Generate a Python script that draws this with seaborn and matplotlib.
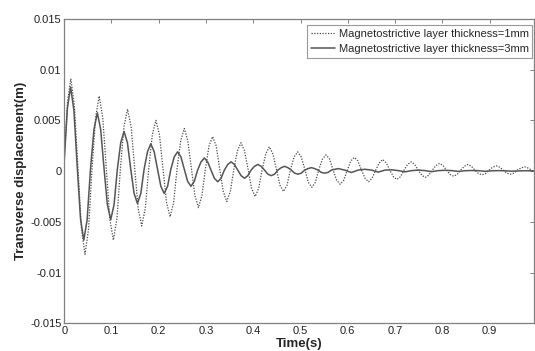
import numpy as np
import pandas as pd
import seaborn as sns
import matplotlib
matplotlib.use("Agg")
import matplotlib.pyplot as plt

# values (time in s, displacement in m)
t_1mm = [0.000, 0.007, 0.014, 0.0215, 0.029, 0.0365, 0.044, 0.0515, 0.059,
         0.0665, 0.074, 0.0815, 0.089, 0.0965, 0.104, 0.1115, 0.119,
         0.1265, 0.134, 0.1415, 0.149, 0.1565, 0.164, 0.1715, 0.179,
         0.1865, 0.194, 0.2015, 0.209, 0.2165, 0.224, 0.2315, 0.239,
         0.2465, 0.254, 0.2615, 0.269, 0.2765, 0.284, 0.2915, 0.299,
         0.3065, 0.314, 0.3215, 0.329, 0.3365, 0.344, 0.3515, 0.359,
         0.3665, 0.374, 0.3815, 0.389, 0.3965, 0.404, 0.4115, 0.419,
         0.4265, 0.434, 0.4415, 0.449, 0.4565, 0.464, 0.4715, 0.479,
         0.4865, 0.494, 0.5015, 0.509, 0.5165, 0.524, 0.5315, 0.539,
         0.5465, 0.554, 0.5615, 0.569, 0.5765, 0.584, 0.5915, 0.599,
         0.6065, 0.614, 0.6215, 0.629, 0.6365, 0.644, 0.6515, 0.659,
         0.6665, 0.674, 0.6815, 0.689, 0.6965, 0.704, 0.7115, 0.719,
         0.7265, 0.734, 0.7415, 0.749, 0.7565, 0.764, 0.7715, 0.779,
         0.7865, 0.794, 0.8015, 0.809, 0.8165, 0.824, 0.8315, 0.839,
         0.8465, 0.854, 0.8615, 0.869, 0.8765, 0.884, 0.8915, 0.899,
         0.9065, 0.914, 0.9215, 0.929, 0.9365, 0.944, 0.9515, 0.959,
         0.9665, 0.974, 0.9815, 0.989, 0.995]
d_1mm = [0.0010, 0.0068, 0.0091, 0.0065, 0.0004, -0.0057, -0.0082, -0.0057, 0.0003,
         0.0053, 0.0074, 0.0053, 0.0003, -0.0047, -0.0068, -0.0047, 0.0003,
         0.0044, 0.0061, 0.0044, 0.0003, -0.0037, -0.0054, -0.0037, 0.0003,
         0.0036, 0.0050, 0.0036, 0.0003, -0.0031, -0.0045, -0.0031, 0.0003,
         0.0030, 0.0042, 0.0030, 0.0003, -0.0024, -0.0036, -0.0024, 0.0003,
         0.0025, 0.0034, 0.0025, 0.0002, -0.0020, -0.0030, -0.0020, 0.0002,
         0.0020, 0.0028, 0.0020, 0.0002, -0.0017, -0.0025, -0.0017, 0.0002,
         0.0017, 0.0024, 0.0017, 0.0002, -0.0014, -0.0020, -0.0014, 0.0002,
         0.0014, 0.0019, 0.0014, 0.0002, -0.0011, -0.0016, -0.0011, 0.0002,
         0.0012, 0.0016, 0.0012, 0.0001, -0.0009, -0.0013, -0.0009, 0.0001,
         0.0010, 0.00135, 0.0010, 0.0001, -0.0007, -0.00105, -0.0007, 0.0001,
         0.0008, 0.00115, 0.0008, 0.0001, -0.00055, -0.00082, -0.00055, 0.0001,
         0.00065, 0.00092, 0.00065, 0.0001, -0.0004, -0.00062, -0.0004, 0.0001,
         0.00055, 0.00076, 0.00055, 0.0001, -0.00033, -0.0005, -0.00033, 0.0001,
         0.00047, 0.00066, 0.00047, 0.0001, -0.00024, -0.00036, -0.00024, 0.0001,
         0.00038, 0.00052, 0.00038, 0.0001, -0.0002, -0.0003, -0.0002, 0.0001,
         0.0003, 0.00042, 0.0003, 0.0001, -0.0001]

t_3mm = [0.000, 0.0068, 0.0135, 0.0205, 0.0275, 0.0345, 0.0415, 0.0485, 0.0558,
         0.063, 0.0701, 0.0772, 0.0842, 0.0913, 0.0984, 0.1055, 0.1125,
         0.1196, 0.1267, 0.1338, 0.1408, 0.1479, 0.155, 0.1621, 0.1691,
         0.1762, 0.1833, 0.1904, 0.1974, 0.2045, 0.2116, 0.2187, 0.2257,
         0.2328, 0.2399, 0.247, 0.254, 0.2611, 0.2682, 0.2753, 0.2823,
         0.2894, 0.2965, 0.3036, 0.3106, 0.3177, 0.3248, 0.3319, 0.3389,
         0.346, 0.3531, 0.3602, 0.3672, 0.3743, 0.3814, 0.3885, 0.3955,
         0.4026, 0.4097, 0.4168, 0.4238, 0.4309, 0.438, 0.4451, 0.4521,
         0.4592, 0.4663, 0.4734, 0.4804, 0.4875, 0.4946, 0.5017, 0.5087,
         0.5158, 0.5229, 0.530, 0.537, 0.5441, 0.5512, 0.5583, 0.5653,
         0.5795, 0.5937, 0.6078, 0.622, 0.6361, 0.6503, 0.6644, 0.6786,
         0.6927, 0.7069, 0.721, 0.7352, 0.7493, 0.7635, 0.7776, 0.7918,
         0.8059, 0.820, 0.8342, 0.8484, 0.8625, 0.8767, 0.8908, 0.905,
         0.9191, 0.9333, 0.9474, 0.9616, 0.9757, 0.995]
d_3mm = [0.0010, 0.0062, 0.0083, 0.0060, 0.0005, -0.0047, -0.0068, -0.0048, 0.0003,
         0.0041, 0.00575, 0.0041, 0.0003, -0.0033, -0.0048, -0.0033, 0.0002,
         0.0028, 0.0039, 0.0028, 0.0002, -0.0022, -0.0032, -0.0022, 0.0002,
         0.0019, 0.0027, 0.0019, 0.0002, -0.0015, -0.0022, -0.0015, 0.0002,
         0.0014, 0.0019, 0.0014, 0.0002, -0.0010, -0.0015, -0.0010, 0.0001,
         0.0009, 0.0013, 0.0009, 0.0001, -0.0007, -0.00105, -0.0007, 0.0001,
         0.00065, 0.00092, 0.00065, 0.0001, -0.00045, -0.0007, -0.00045, 0.0001,
         0.00047, 0.00066, 0.00047, 0.0001, -0.0003, -0.00045, -0.0003, 0.0001,
         0.00034, 0.00047, 0.00034, 0.0001, -0.0002, -0.0003, -0.0002, 0.0001,
         0.00025, 0.00034, 0.00025, 0.0001, -0.00013, -0.0002, -0.00013, 0.0001,
         0.00025, 0.0001, -0.00014, 0.0001, 0.00018, 0.0001, -0.0001, 0.0001,
         0.00013, 0.00005, -0.00007, 0.00005, 0.0001, 0.00005, -0.00005, 0.00005,
         0.00008, 0.00005, -0.00003, 0.00004, 0.00006, 0.00004, -0.00002, 0.00003,
         0.00005, 0.00003, -0.00001, 0.00002, 0.00004, 0.00002]

labels = ["Magnetostrictive layer thickness=1mm", "Magnetostrictive layer thickness=3mm"]
x_ticks = [0, 0.1, 0.2, 0.3, 0.4, 0.5, 0.6, 0.7, 0.8, 0.9]
x_tick_labels = ["0", "0.1", "0.2", "0.3", "0.4", "0.5", "0.6", "0.7", "0.8", "0.9"]
y_ticks = [-0.015, -0.01, -0.005, 0, 0.005, 0.01, 0.015]
y_tick_labels = ["-0.015", "-0.01", "-0.005", "0", "0.005", "0.01", "0.015"]

sns.set_style("white")
plt.rcParams['font.family'] = ['Liberation Sans', 'DejaVu Sans']

df1 = pd.DataFrame({"t": t_1mm, "d": d_1mm})
df3 = pd.DataFrame({"t": t_3mm, "d": d_3mm})

fig = plt.figure(figsize=(5.35, 3.51), dpi=100)
ax = fig.add_axes([0.120, 0.079, 0.879, 0.867])

sns.lineplot(data=df1, x="t", y="d", ax=ax, color="#4a4a4a", linewidth=0.9,
             linestyle=(0, (1, 1.2)), label=labels[0], sort=False)
sns.lineplot(data=df3, x="t", y="d", ax=ax, color="#555555", linewidth=1.1,
             label=labels[1], sort=False)

ax.set_xlim(0, 0.995)
ax.set_ylim(-0.015, 0.015)
ax.set_xticks(x_ticks)
ax.set_xticklabels(x_tick_labels)
ax.set_yticks(y_ticks)
ax.set_yticklabels(y_tick_labels)
ax.tick_params(direction="in", length=3, width=0.7, colors="#808080",
               labelcolor="#222222", labelsize=8, top=True, right=True, pad=2)

for s in ax.spines.values():
    s.set_color("#808080")
    s.set_linewidth(0.9)

ax.set_xlabel("Time(s)", fontsize=9.5, fontweight="bold", labelpad=1.5)
ax.set_ylabel("Transverse displacement(m)", fontsize=9.5, fontweight="bold", labelpad=2)

leg = ax.legend(loc="upper right", bbox_to_anchor=(0.9958, 0.980), fontsize=8,
                frameon=True, fancybox=False, handlelength=2.2, handletextpad=0.3,
                borderpad=0.35, labelspacing=0.45, borderaxespad=0)
leg.get_frame().set_edgecolor("#808080")
leg.get_frame().set_linewidth(0.8)

fig.savefig("out.png", dpi=100)
